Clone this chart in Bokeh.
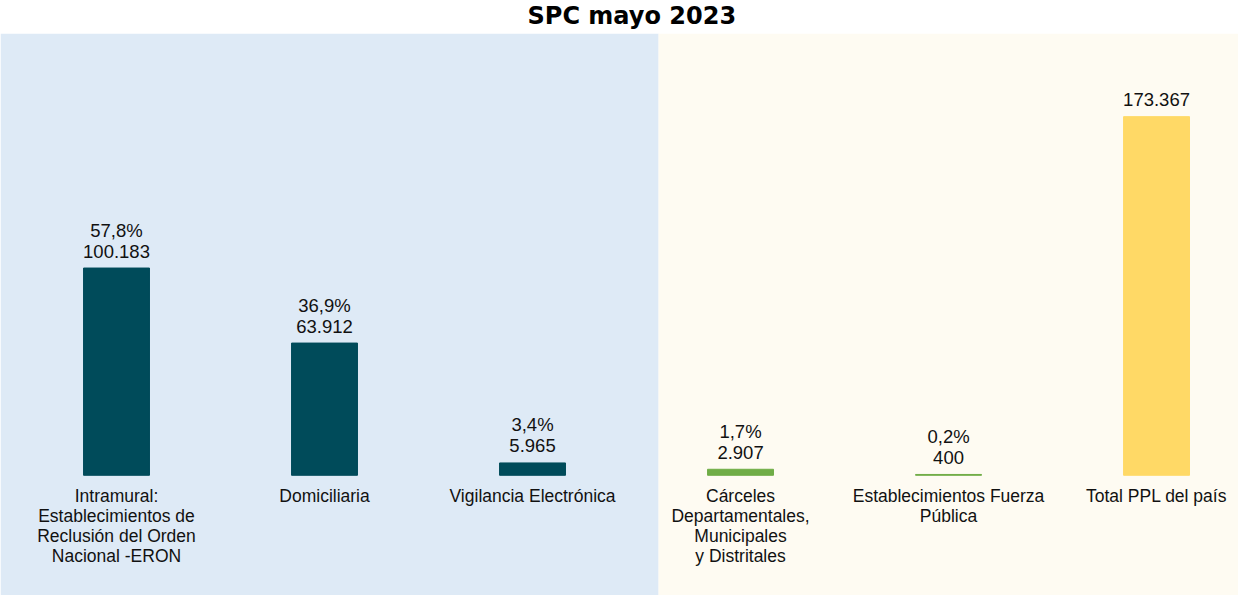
from bokeh.plotting import figure
from bokeh.models import ColumnDataSource, BoxAnnotation, Range1d
from bokeh.core.properties import value
from bokeh.embed import file_html
from bokeh.resources import INLINE

title_text = "SPC mayo 2023"
categories = [
    "Intramural:\nEstablecimientos de\nReclusión del Orden\nNacional -ERON",
    "Domiciliaria",
    "Vigilancia Electrónica",
    "Cárceles\nDepartamentales,\nMunicipales\ny Distritales",
    "Establecimientos Fuerza\nPública",
    "Total PPL del país",
]
counts = [100183, 63912, 5965, 2907, 400, 173367]
count_labels = ["100.183", "63.912", "5.965", "2.907", "400", "173.367"]
pct_labels = ["57,8%", "36,9%", "3,4%", "1,7%", "0,2%", ""]
colors = ["#004B5A", "#004B5A", "#004B5A", "#70AD47", "#70AD47", "#FFD966"]

xs = list(range(len(categories)))
src = ColumnDataSource(dict(x=xs, top=counts, cat=categories, cnt=count_labels,
                            pct=pct_labels, color=colors))

p = figure(width=1238, height=595, output_backend="svg", toolbar_location=None,
           x_range=Range1d(-0.5577, 5.394), y_range=Range1d(-58111, 213559),
           min_border_left=0, min_border_right=0, min_border_bottom=0, min_border_top=0,
           title=title_text)
p.title.align = "left"
p.title.vertical_align = "top"
p.title.text_font = "DejaVu Sans"
p.title.text_font_style = "bold"
p.title.text_font_size = "24px"
p.title.text_color = "#000000"
p.title.offset = 527
p.title.standoff = 3

p.axis.visible = False
p.grid.visible = False
p.outline_line_color = None
p.background_fill_color = "#FFFFFF"
p.border_fill_color = "#FFFFFF"

split = 2.606
p.add_layout(BoxAnnotation(right=split, fill_color="#DEEAF6", fill_alpha=1, line_color=None, level="underlay"))
p.add_layout(BoxAnnotation(left=split, fill_color="#FEFBF2", fill_alpha=1, line_color=None, level="underlay"))

p.vbar(x="x", top="top", bottom=0, width=0.317, color="color", source=src)

font = value("Liberation Sans")
p.text(x="x", y="top", text="cnt", source=src, text_align="center", text_baseline="middle",
       y_offset=-17, text_font=font, text_font_size="18.5px", text_color="#111111")
p.text(x="x", y="top", text="pct", source=src, text_align="center", text_baseline="middle",
       y_offset=-38, text_font=font, text_font_size="18.5px", text_color="#111111")
p.text(x="x", y=0, text="cat", source=src, text_align="center", text_baseline="top",
       y_offset=11, text_font=font, text_font_size="17.5px", text_line_height=1.0,
       text_color="#111111")

open("out.html", "w").write(file_html(p, INLINE))
